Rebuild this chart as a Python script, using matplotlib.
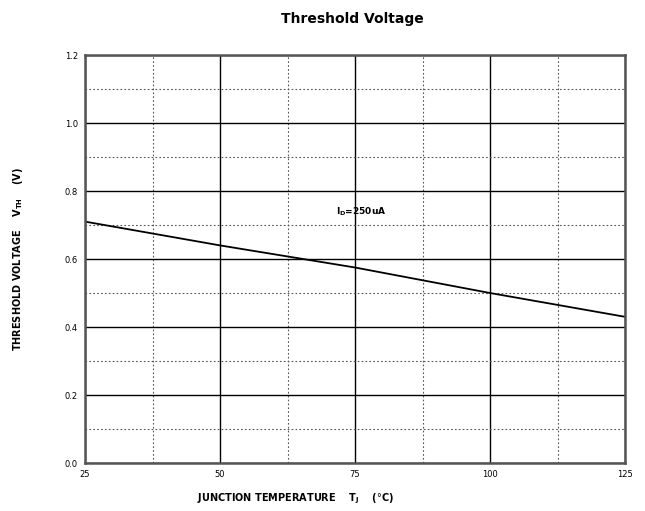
import matplotlib
matplotlib.use('Agg')
import matplotlib.pyplot as plt
from matplotlib.ticker import MultipleLocator

# junction temperature (C) and threshold voltage (V)
temp = [25, 50, 75, 100, 125]
vth = [0.71, 0.64, 0.575, 0.50, 0.43]

xticks = [25, 50, 75, 100, 125]
yticks = [0.0, 0.2, 0.4, 0.6, 0.8, 1.0, 1.2]

fig = plt.figure(figsize=(6.45, 5.11), dpi=100)
ax = fig.add_axes([85/645, 48/511, 540/645, 408/511])

ax.plot(temp, vth, color='black', linewidth=1.3)

ax.set_xlim(25, 125)
ax.set_ylim(0, 1.2)
ax.set_xticks(xticks)
ax.set_yticks(yticks)
ax.set_xticklabels([str(t) for t in xticks])
ax.set_yticklabels(['%.1f' % v for v in yticks])
ax.xaxis.set_minor_locator(MultipleLocator(12.5))
ax.yaxis.set_minor_locator(MultipleLocator(0.1))

# solid major grid, dotted minor grid
ax.grid(which='major', color='black', linewidth=1.0)
ax.grid(which='minor', color='#555555', linewidth=0.8, linestyle=(0, (1.5, 2)))
ax.tick_params(which='both', length=0, labelsize=6, pad=5)
for s in ax.spines.values():
    s.set_linewidth(1.8)
    s.set_color('#555555')

ax.text(71.5, 0.74, r'I$_\mathregular{D}$=250uA', fontsize=6.5, fontweight='bold',
        va='center', ha='left')

fig.text(0.547, 0.962, 'Threshold Voltage', ha='center', va='center',
         fontsize=10, fontweight='bold')
ax.set_xlabel(r'JUNCTION TEMPERATURE    T$_\mathregular{J}$    ($\degree$C)',
              fontsize=7, fontweight='semibold')
ax.xaxis.set_label_coords(0.39, -0.07)
ax.set_ylabel(r'THRESHOLD VOLTAGE    V$_\mathregular{TH}$    (V)',
              fontsize=7, fontweight='semibold')
ax.yaxis.set_label_coords(-0.112, 0.5)

fig.savefig('out.png', dpi=100)
